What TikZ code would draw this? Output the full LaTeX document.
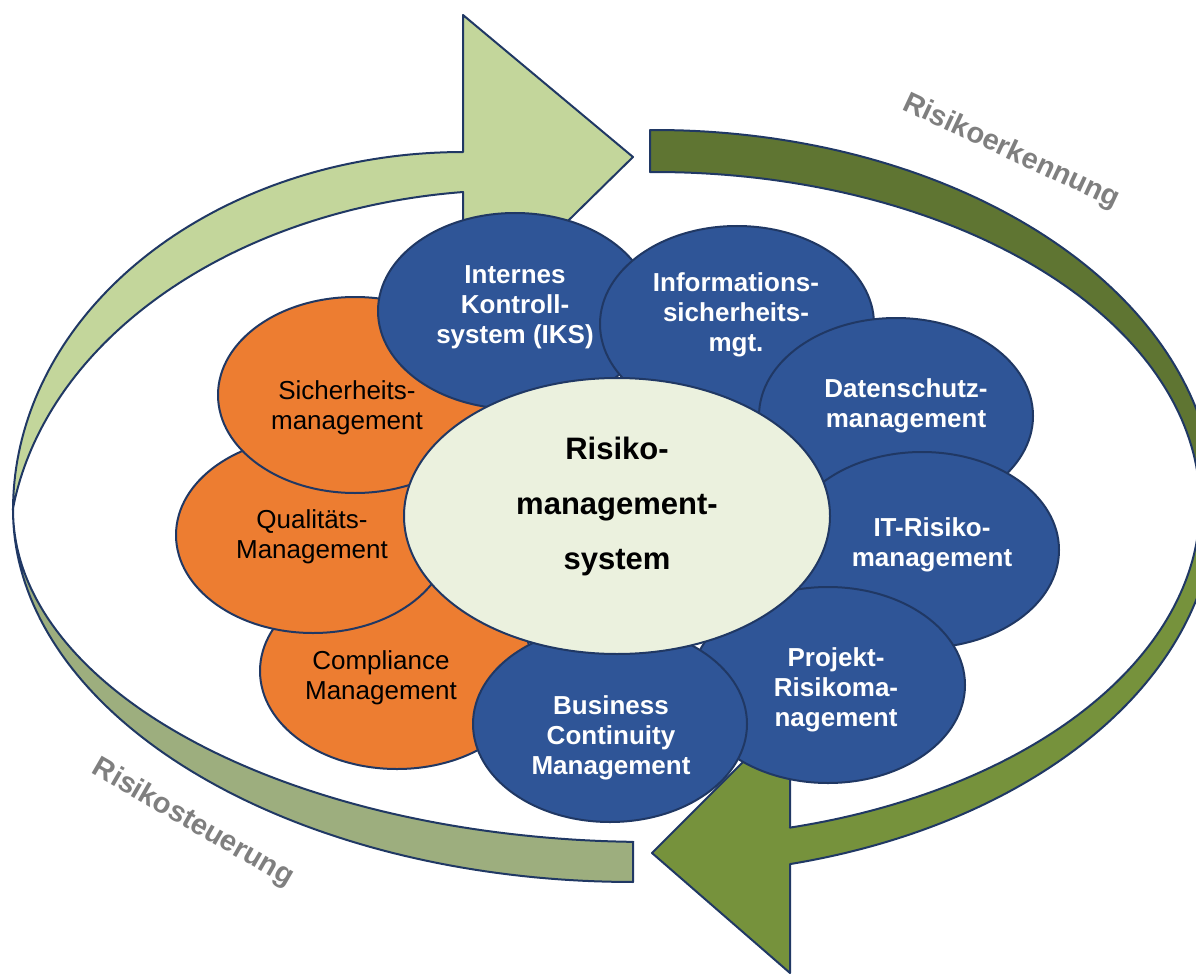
\documentclass[tikz,border=0pt]{standalone}
\usepackage{fontspec}
\setmainfont{Liberation Sans}
\usetikzlibrary{shapes.geometric}
\definecolor{navy}{HTML}{203864}
\definecolor{lgA}{HTML}{C3D69B}
\definecolor{lgB}{HTML}{9DAE7E}
\definecolor{rgA}{HTML}{5F7532}
\definecolor{rgB}{HTML}{76923C}
\definecolor{blueF}{HTML}{2F5597}
\definecolor{orangeF}{HTML}{ED7D31}
\definecolor{creamF}{HTML}{EBF1DE}
\definecolor{lgray}{HTML}{7F7F7F}
\tikzset{
  band/.style={draw=navy, line width=2pt, line join=round},
  arcplot/.style={samples=80, variable=\t},
  blob/.style={ellipse, draw=navy, line width=2pt, minimum width=274pt, minimum height=196pt, inner sep=0pt},
  bblob/.style={blob, fill=blueF},
  oblob/.style={blob, fill=orangeF},
  wtext/.style={text=white, font=\fontsize{26}{30}\selectfont\bfseries, align=center, inner sep=0pt},
  ktext/.style={text=black, font=\fontsize{26}{30}\selectfont, align=center, inner sep=0pt},
  ringlabel/.style={text=lgray, font=\fontsize{29}{29}\selectfont\bfseries, inner sep=0pt},
}
\begin{document}
\begin{tikzpicture}[x=1pt,y=-1pt]
\useasboundingbox (0,0) rectangle (1196,976);
\clip (0,0) rectangle (1196,976);

% left arrow, upper (light) face
\filldraw[band, fill=lgA] (463,152) -- (463,15) -- (633,157) -- (463,324) -- (463,192)
  -- plot[arcplot, domain=96:172.2] ({516+508*cos(\t)},{560-370*sin(\t)})
  -- plot[arcplot, domain=180:90] ({463+450*cos(\t)},{510-358*sin(\t)})
  -- cycle;
% left arrow, lower (dark) face
\filldraw[band, fill=lgB] plot[arcplot, domain=0:90] ({633-620*cos(\t)},{510+372*sin(\t)})
  -- (633,842)
  -- plot[arcplot, domain=88.5:0] ({650-637*cos(\t)},{510+332*sin(\t)})
  -- cycle;
% right arrow, upper (dark) face
\filldraw[band, fill=rgA] (650,130) -- (650,172)
  -- plot[arcplot, domain=90.53:0] ({655+545*cos(\t)},{505-333*sin(\t)})
  -- plot[arcplot, domain=0:90.51] ({655+560*cos(\t)},{505-375*sin(\t)})
  -- cycle;
% right arrow, lower (light) face
\filldraw[band, fill=rgB] plot[arcplot, domain=0:76.05] ({655+560*cos(\t)},{505+370*sin(\t)})
  -- (790,973) -- (652,853) -- (790,715) -- (790,827)
  -- plot[arcplot, domain=75.66:0] ({655+545*cos(\t)},{505+333*sin(\t)})
  -- cycle;

% labels along the ring
\node[ringlabel, rotate=-25] (erk) at (1011,152) {Risikoerkennung};
\node[ringlabel, rotate=-30] (steu) at (193,823) {Risikosteuerung};

% satellites
\node[oblob] (comp) at (397,671) {};
\node[ktext] (comp-t) at (381,678) {Compliance\\Management};
\node[oblob] (qual) at (313,535) {};
\node[ktext] (qual-t) at (312,537) {Qualitäts-\\Management};
\node[oblob] (sich) at (355,395) {};
\node[ktext] (sich-t) at (347,408) {Sicherheits-\\management};
\node[bblob] (iks) at (515,311) {};
\node[wtext] (iks-t) at (515,307) {Internes\\Kontroll-\\system (IKS)};
\node[bblob] (info) at (737,324) {};
\node[wtext] (info-t) at (736,315) {Informations-\\sicherheits-\\mgt.};
\node[bblob] (dsm) at (896,416) {};
\node[wtext] (dsm-t) at (906,406) {Datenschutz-\\management};
\node[bblob] (itr) at (922,550) {};
\node[wtext] (itr-t) at (932,545) {IT-Risiko-\\management};
\node[bblob] (prj) at (828,685) {};
\node[wtext] (prj-t) at (836,690) {Projekt-\\Risikoma-\\nagement};
\node[bblob] (bcm) at (610,724) {};
\node[wtext] (bcm-t) at (611,738) {Business\\Continuity\\Management};

% centre
\node[ellipse, draw=navy, line width=2pt, fill=creamF, minimum width=426pt, minimum height=276pt, inner sep=0pt] (rms) at (617,516) {};
\node[text=black, font=\fontsize{31}{55}\selectfont\bfseries, align=center, inner sep=0pt] (rms-t) at (617,506) {Risiko-\\management-\\system};
\end{tikzpicture}
\end{document}
